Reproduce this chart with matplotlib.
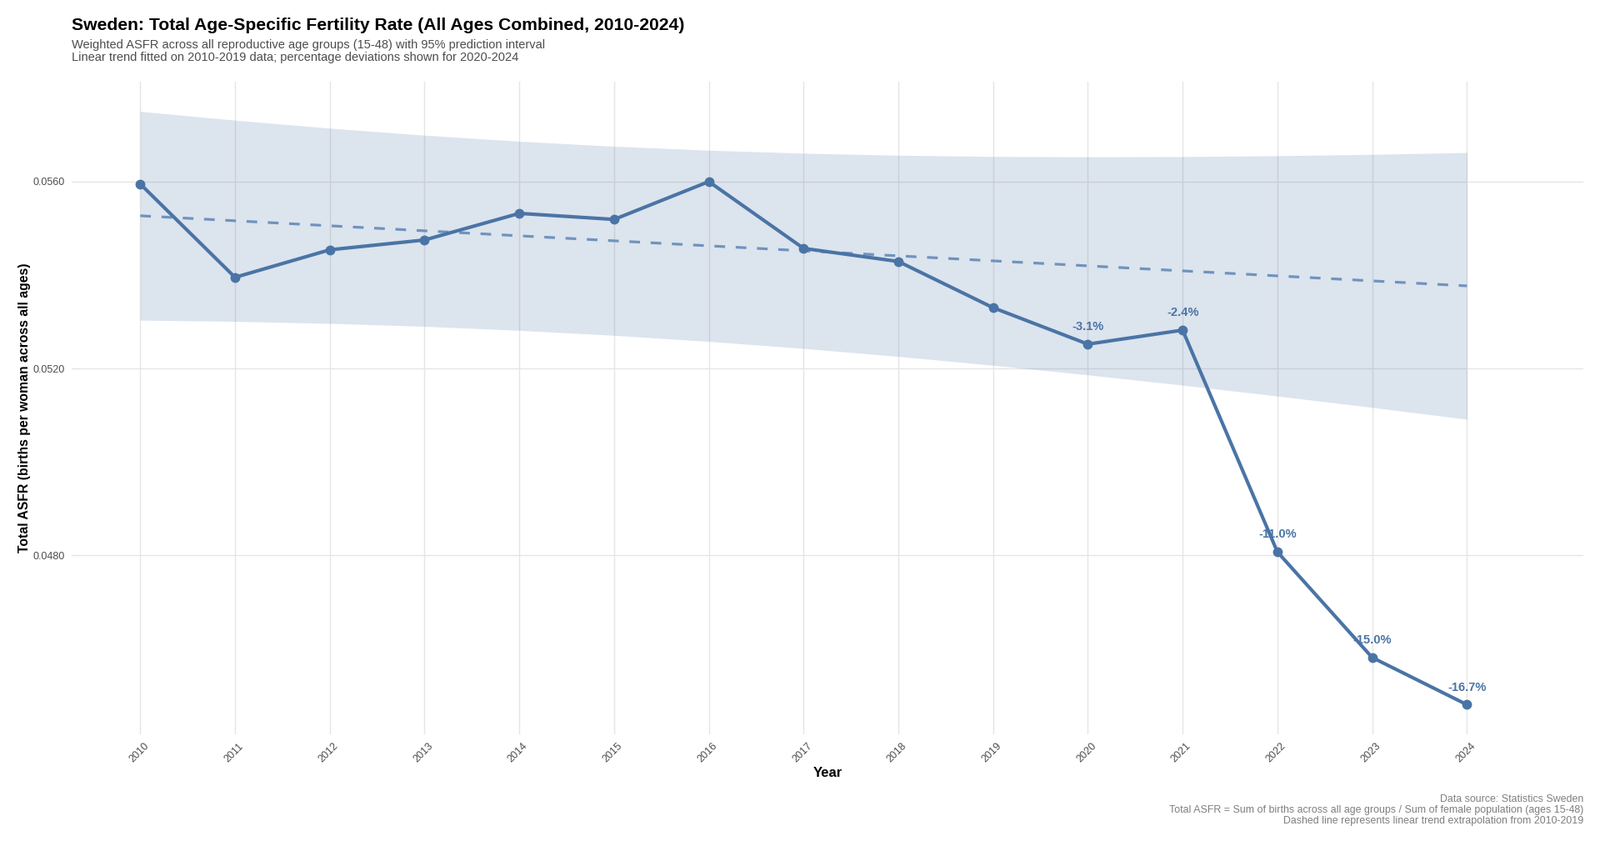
import numpy as np
import matplotlib
matplotlib.use("Agg")
import matplotlib.pyplot as plt
import matplotlib.transforms as mtransforms

plt.rcParams['font.family'] = ['Liberation Sans', 'DejaVu Sans']

# total ASFR per year
years = [2010, 2011, 2012, 2013, 2014, 2015, 2016, 2017, 2018, 2019,
         2020, 2021, 2022, 2023, 2024]
asfr = [0.05595, 0.05395, 0.05454, 0.05475, 0.05532, 0.05519, 0.05600,
        0.05457, 0.05429, 0.05330, 0.05252, 0.05282, 0.04807, 0.04581,
        0.04480]
dev_years = [2020, 2021, 2022, 2023, 2024]
dev_labels = ["-3.1%", "-2.4%", "-11.0%", "-15.0%", "-16.7%"]

col = '#4a74a5'

# linear trend on 2010-2019 with 95% prediction interval
yr = np.array(years, dtype=float)
y = np.array(asfr)
xb, yb = yr[:10], y[:10]
n = len(xb)
b1, b0 = np.polyfit(xb, yb, 1)
trend = b0 + b1 * yr
res = yb - (b0 + b1 * xb)
s = np.sqrt(np.sum(res ** 2) / (n - 2))
sxx = np.sum((xb - xb.mean()) ** 2)
se = s * np.sqrt(1 + 1 / n + (yr - xb.mean()) ** 2 / sxx)
tval = 2.306  # t(0.975, df=8)
lower = trend - tval * se
upper = trend + tval * se

W, H = 1920, 1009
fig = plt.figure(figsize=(W / 100, H / 100), dpi=100)
left, right, top, bot = 86, 1900, 98, 881
ax = fig.add_axes([left / W, 1 - bot / H, (right - left) / W, (bot - top) / H])

ax.fill_between(yr, lower, upper, color=col, alpha=0.19, lw=0, zorder=2)
ax.plot(yr, trend, color='#6f93bd', lw=2.3, dashes=(4, 4), zorder=3)
ax.plot(yr, y, color=col, lw=3.0, marker='o', ms=7.5, zorder=4)

for yy, lab in zip(dev_years, dev_labels):
    v = asfr[years.index(yy)]
    ax.annotate(lab, (yy, v), xytext=(0, 10), textcoords='offset points',
                ha='center', va='bottom', fontsize=10.5, fontweight='bold',
                color=col, zorder=5)

lo = min(lower.min(), y.min())
hi = max(upper.max(), y.max())
pad = (hi - lo) * 0.05
ax.set_ylim(lo - pad, hi + pad)
# 2010 sits at x=168 px and 2024 at x=1760 px in the panel
ppy = (1760.3 - 168.3) / 14
ax.set_xlim(2010 - (168.3 - left) / ppy, 2024 + (right - 1760.3) / ppy)

ax.set_xticks(years)
ax.set_xticklabels([str(v) for v in years], rotation=45, ha='right',
                   va='top', rotation_mode='anchor')
ax.set_yticks([0.0480, 0.0520, 0.0560])
ax.set_yticklabels(['0.0480', '0.0520', '0.0560'])
ax.tick_params(length=0, labelsize=9, labelcolor='#4d4d4d')
ax.tick_params(axis='y', pad=6)
ax.tick_params(axis='x', pad=6)
shift = mtransforms.ScaledTranslation(4 / 100, 0, fig.dpi_scale_trans)
for t in ax.get_xticklabels():
    t.set_transform(t.get_transform() + shift)
for sp in ax.spines.values():
    sp.set_visible(False)
ax.grid(True, color='#e5e5e5', lw=1.0, zorder=0)
ax.set_axisbelow(True)

ax.set_xlabel('Year', fontsize=12, fontweight='bold', labelpad=2)
ax.set_ylabel('Total ASFR (births per woman across all ages)', fontsize=11.3,
              fontweight='bold', labelpad=2)

fig.text(86 / W, 1 - 36 / H,
         'Sweden: Total Age-Specific Fertility Rate (All Ages Combined, 2010-2024)',
         fontsize=15.2, fontweight='bold', ha='left', va='baseline')
fig.text(86 / W, 1 - 58 / H,
         'Weighted ASFR across all reproductive age groups (15-48) with 95% prediction interval',
         fontsize=10.5, color='#4d4d4d', ha='left', va='baseline')
fig.text(86 / W, 1 - 72.5 / H,
         'Linear trend fitted on 2010-2019 data; percentage deviations shown for 2020-2024',
         fontsize=10.5, color='#4d4d4d', ha='left', va='baseline')
fig.text(1900 / W, 1 - 953 / H,
         'Data source: Statistics Sweden\n'
         'Total ASFR = Sum of births across all age groups / Sum of female population (ages 15-48)\n'
         'Dashed line represents linear trend extrapolation from 2010-2019',
         fontsize=8.9, color='#7f7f7f', ha='right', va='top', linespacing=1.12)

fig.savefig('out.png', dpi=100, facecolor='white')
